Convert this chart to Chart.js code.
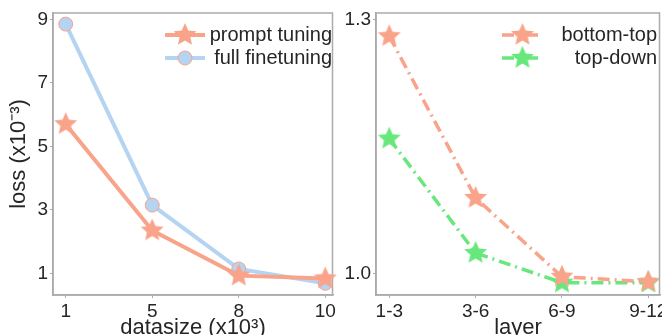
<!DOCTYPE html>
<html>
<head>
<meta charset="utf-8">
<script src="https://cdn.jsdelivr.net/npm/chart.js@4"></script>
<style>
  html, body { margin: 0; padding: 0; background: #fff; overflow: hidden; }
  #wrap { position: relative; width: 662px; height: 335px; }
  .panel { position: absolute; top: 0; height: 335px; }
  #left { left: 0; width: 340px; }
  #right { left: 340px; width: 322px; }
</style>
</head>
<body>
<div id="wrap">
  <div class="panel" id="left"><canvas id="loss_data"></canvas></div>
  <div class="panel" id="right"><canvas id="loss_layer"></canvas></div>
</div>
<script>
// left panel
const dataSizes = ['1', '5', '8', '10'];
const promptTuning = [5.7, 2.35, 0.93, 0.84];
const fullFinetuning = [8.85, 3.15, 1.14, 0.69];
const lossTicks = [1, 3, 5, 7, 9];

// right panel
const layers = ['1-3', '3-6', '6-9', '9-12'];
const bottomTop = [1.280, 1.089, 0.996, 0.990];
const topDown = [1.159, 1.024, 0.989, 0.989];
const layerTicks = [1.0, 1.3];

const salmon = '#f9a38a';
const blue = '#b4d4f1';
const green = '#68e77c';
const axisGray = '#ababab';
const textColor = '#262626';
const FONT = "'Liberation Sans', Helvetica, Arial, sans-serif";

Chart.defaults.font.family = FONT;
Chart.defaults.color = textColor;
Chart.defaults.animation = false;

function starImage(color, outer, inner) {
    const size = Math.ceil(outer * 2 + 2);
    const c = document.createElement('canvas');
    c.width = size;
    c.height = size;
    const ctx = c.getContext('2d');
    const cx = size / 2, cy = size / 2;
    ctx.beginPath();
    for (let i = 0; i < 10; i++) {
        const r = i % 2 === 0 ? outer : inner;
        const a = -Math.PI / 2 + i * Math.PI / 5;
        const x = cx + r * Math.cos(a), y = cy + r * Math.sin(a);
        if (i === 0) ctx.moveTo(x, y); else ctx.lineTo(x, y);
    }
    ctx.closePath();
    ctx.fillStyle = color;
    ctx.fill();
    return c;
}

const salmonStar = starImage(salmon, 12, 5.6);
const greenStar = starImage(green, 12, 5.6);

// box round the plot area
const boxPlugin = {
    id: 'box',
    beforeDatasetsDraw(chart) {
        const a = chart.chartArea;
        const ctx = chart.ctx;
        ctx.save();
        ctx.strokeStyle = axisGray;
        ctx.lineWidth = 1.5;
        ctx.strokeRect(a.left, a.top, a.right - a.left - 0.5, a.bottom - a.top);
        ctx.restore();
    }
};

// legend with line + marker, text right aligned
const lineLegend = {
    id: 'lineLegend',
    afterDatasetsDraw(chart, args, opts) {
        const ctx = chart.ctx;
        const a = chart.chartArea;
        ctx.save();
        ctx.font = '20px ' + FONT;
        ctx.textAlign = 'right';
        ctx.textBaseline = 'middle';
        chart.data.datasets.forEach((ds, i) => {
            const y = a.top + opts.top + i * opts.rowGap;
            const x0 = a.left + opts.lineX0, x1 = a.left + opts.lineX1;
            const xm = (x0 + x1) / 2;
            ctx.strokeStyle = ds.borderColor;
            ctx.lineWidth = ds.borderWidth;
            ctx.setLineDash(ds.borderDash || []);
            ctx.beginPath();
            ctx.moveTo(x0, y);
            ctx.lineTo(x1, y);
            ctx.stroke();
            ctx.setLineDash([]);
            if (ds.pointStyle instanceof HTMLCanvasElement) {
                const img = ds.pointStyle;
                ctx.drawImage(img, xm - img.width / 2, y - img.height / 2);
            } else {
                ctx.beginPath();
                ctx.arc(xm, y, ds.pointRadius, 0, Math.PI * 2);
                ctx.fillStyle = ds.pointBackgroundColor;
                ctx.fill();
                ctx.lineWidth = ds.pointBorderWidth;
                ctx.strokeStyle = ds.pointBorderColor;
                ctx.stroke();
            }
            ctx.fillStyle = textColor;
            ctx.fillText(ds.label, a.right - opts.textInset, y);
        });
        ctx.restore();
    }
};

function xAxis(labels, min, max, title) {
    return {
        type: 'linear',
        min: min,
        max: max,
        afterBuildTicks: s => { s.ticks = labels.map((l, i) => ({ value: i })); },
        afterFit: s => { s.height = 40; s.paddingLeft = 0; s.paddingRight = 0; },
        ticks: {
            callback: v => labels[v],
            font: { size: 19 },
            padding: 2,
            maxRotation: 0,
            autoSkip: false
        },
        grid: { drawOnChartArea: false, tickLength: 3, color: axisGray },
        border: { color: axisGray, width: 1.5 },
        title: {
            display: true,
            text: title,
            font: { size: 22, lineHeight: 1 },
            padding: { top: 0, bottom: -4 }
        }
    };
}

function yAxis(ticks, min, max, width, fmt, title) {
    return {
        min: min,
        max: max,
        afterBuildTicks: s => { s.ticks = ticks.map(v => ({ value: v })); },
        afterFit: s => { s.width = width; s.paddingTop = 0; s.paddingBottom = 0; },
        ticks: { callback: fmt, font: { size: 19 }, padding: 2 },
        grid: { drawOnChartArea: false, tickLength: 3, color: axisGray },
        border: { color: axisGray, width: 1.5 },
        title: {
            display: !!title,
            text: title || '',
            font: { size: 22, lineHeight: 1 },
            padding: { top: 8, bottom: 0 }
        }
    };
}

const lossData = document.getElementById('loss_data');
const chartData = new Chart(lossData, {
    type: 'line',
    data: {
        datasets: [{
            label: 'prompt tuning',
            data: promptTuning.map((v, i) => ({ x: i, y: v })),
            borderColor: salmon,
            borderWidth: 4,
            pointStyle: salmonStar,
            pointRadius: 12,
            clip: false,
            order: 0
        }, {
            label: 'full finetuning',
            data: fullFinetuning.map((v, i) => ({ x: i, y: v })),
            borderColor: blue,
            borderWidth: 4,
            pointStyle: 'circle',
            pointRadius: 7,
            pointBackgroundColor: blue,
            pointBorderColor: salmon,
            pointBorderWidth: 1,
            clip: false,
            order: 1
        }]
    },
    options: {
        responsive: true,
        maintainAspectRatio: false,
        layout: { autoPadding: false, padding: { top: 13, right: 7, left: 0, bottom: 0 } },
        plugins: {
            legend: { display: false },
            tooltip: { enabled: false },
            lineLegend: { top: 22, rowGap: 23, lineX0: 112, lineX1: 152, textInset: 1 }
        },
        scales: {
            x: xAxis(dataSizes, -0.147, 3.089, 'datasize (x10\u00b3)'),
            y: yAxis(lossTicks, 0.32, 9.2, 53, v => String(v), 'loss (x10\u207b\u00b3)')
        }
    },
    plugins: [boxPlugin, lineLegend]
});

const lossLayer = document.getElementById('loss_layer');
const chartLayer = new Chart(lossLayer, {
    type: 'line',
    data: {
        datasets: [{
            label: 'bottom-top',
            data: bottomTop.map((v, i) => ({ x: i, y: v })),
            borderColor: salmon,
            borderWidth: 3.5,
            borderDash: [12, 5, 2, 5],
            pointStyle: salmonStar,
            pointRadius: 12,
            clip: false,
            order: 0
        }, {
            label: 'top-down',
            data: topDown.map((v, i) => ({ x: i, y: v })),
            borderColor: green,
            borderWidth: 3.5,
            borderDash: [12, 5, 2, 5],
            pointStyle: greenStar,
            pointRadius: 12,
            clip: false,
            order: 1
        }]
    },
    options: {
        responsive: true,
        maintainAspectRatio: false,
        layout: { autoPadding: false, padding: { top: 13, right: 2, left: 0, bottom: 0 } },
        plugins: {
            legend: { display: false },
            tooltip: { enabled: false },
            lineLegend: { top: 22, rowGap: 23, lineX0: 126, lineX1: 167, textInset: 3 }
        },
        scales: {
            x: xAxis(layers, -0.154, 3.136, 'layer'),
            y: yAxis(layerTicks, 0.9744, 1.3074, 36, v => v.toFixed(1), null)
        }
    },
    plugins: [boxPlugin, lineLegend]
});
</script>
</body>
</html>
